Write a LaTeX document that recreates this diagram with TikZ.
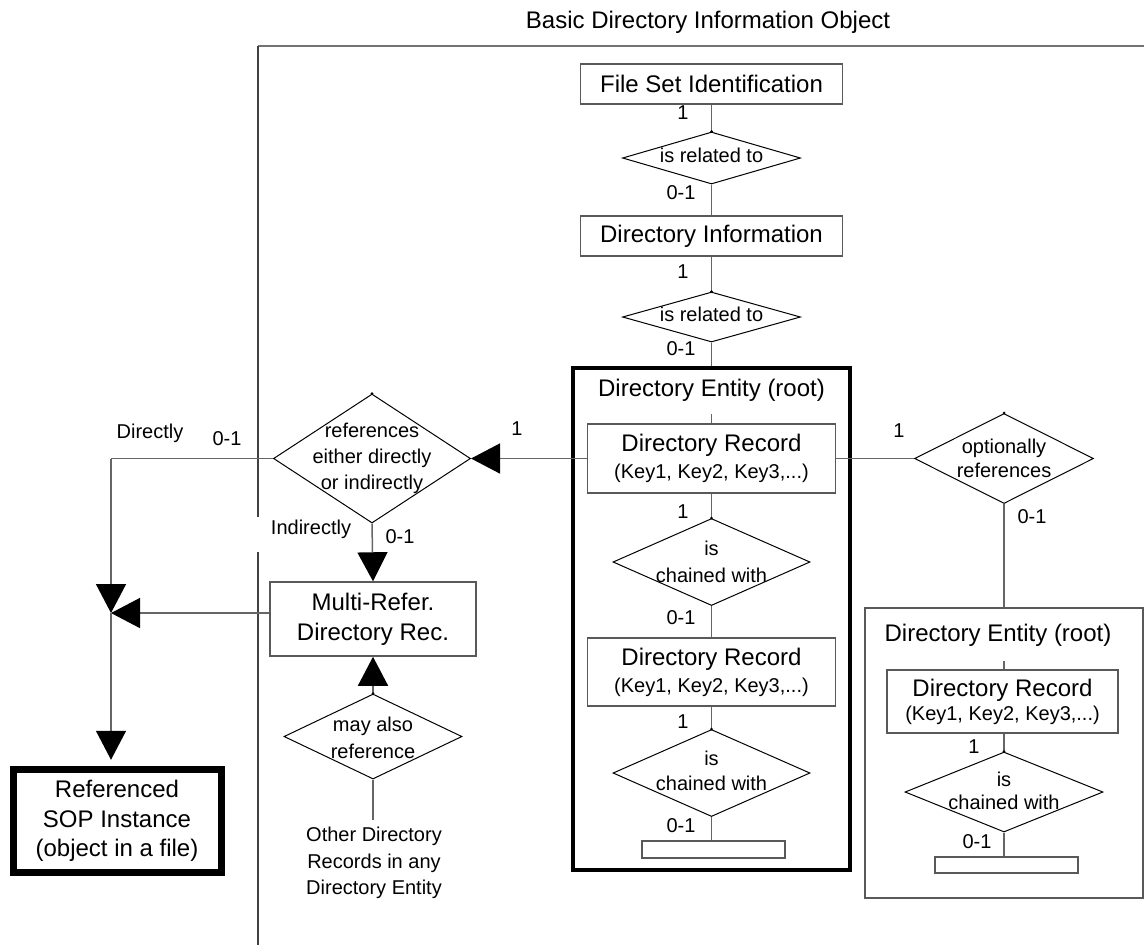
\documentclass[tikz,border=0pt]{standalone}
\usepackage{fontspec}
\setmainfont{Liberation Sans}
\usetikzlibrary{shapes.geometric,arrows.meta}
\begin{document}
\begin{tikzpicture}[x=0.5pt,y=-0.5pt,
  big/.style={font=\fontsize{12}{15}\selectfont},
  sml/.style={font=\fontsize{10}{13}\selectfont},
  box/.style={draw=black!65, line width=0.75pt, inner sep=0pt, align=center, rectangle},
  dia/.style={draw=black, line width=0.5pt, diamond, inner sep=0pt},
  conn/.style={draw=black!60, line width=0.75pt},
  arr/.style={conn, -{Triangle[length=14.5pt,width=15pt,color=black]}},
  lab/.style={sml, inner sep=0pt},
  txt/.style={inner sep=0pt, align=center},
  rec/.style={box, minimum width=124pt, font=\fontsize{10}{13.5}\selectfont},
]
\useasboundingbox (0,0) rectangle (1144,950);

% frame
\draw[black!55, line width=1pt] (258,46) -- (1144,46);
\draw[black!75, line width=0.6pt] (258,46) -- (258,517) (258,552) -- (258,945);
\node[txt, big] (title) at (708,22) {Basic Directory Information Object};

% central column
\node[box, big, minimum width=131pt, minimum height=20pt] (fsi) at (711.5,84) {File Set Identification};
\node[dia, minimum width=89pt, minimum height=26pt] (d1) at (711.5,158) {};
\node[txt, sml] (d1t) at (711.5,155) {is related to};
\node[box, big, minimum width=131pt, minimum height=20pt] (din) at (711.5,236) {Directory Information};
\node[dia, minimum width=89pt, minimum height=25pt] (d2) at (711.5,317) {};
\node[txt, sml] (d2t) at (711.5,314) {is related to};

\node[draw=black, line width=2pt, inner sep=0pt, minimum width=138.5pt, minimum height=251pt] (ent) at (711.5,619) {};
\node[txt, big] (entt) at (711.5,390) {Directory Entity (root)};
\coordinate (s1) at (711.5,414);
\node[rec, minimum height=34.5pt] (r1) at (711.5,458.5) {{\fontsize{12}{13.5}\selectfont Directory Record}\\(Key1, Key2, Key3,...)};
\node[dia, minimum width=98.5pt, minimum height=43.5pt] (d3) at (711.5,562) {};
\node[txt, font=\fontsize{10}{13.5}\selectfont] (d3t) at (711.5,561.5) {is\\chained with};
\node[rec, minimum height=34pt] (r2) at (711.5,672) {{\fontsize{12}{13.5}\selectfont Directory Record}\\(Key1, Key2, Key3,...)};
\node[dia, minimum width=98.5pt, minimum height=43.5pt] (d4) at (711.5,773) {};
\node[txt, font=\fontsize{10}{12.5}\selectfont] (d4t) at (711.5,771) {is\\chained with};
\node[box, minimum width=71.5pt, minimum height=8.5pt] (e1) at (713.5,849.5) {};

% left part
\node[dia, minimum width=98.5pt, minimum height=64.5pt] (dl) at (372,458.5) {};
\node[txt, font=\fontsize{10}{13}\selectfont] (dlt) at (372,458) {references\\either directly\\or indirectly};
\node[box, font=\fontsize{12}{15}\selectfont, minimum width=103pt, minimum height=37pt] (mr) at (373,619) {Multi-Refer.\\Directory Rec.};
\node[dia, minimum width=89pt, minimum height=42.5pt] (dm) at (373,736.5) {};
\node[txt, font=\fontsize{10}{13.3}\selectfont] (dmt) at (373,738) {may also\\reference};
\coordinate (ot) at (373,820);
\node[txt, font=\fontsize{10}{13.25}\selectfont] (other) at (374,863) {Other Directory\\Records in any\\Directory Entity};
\node[draw=black, line width=3.5pt, inner sep=0pt, align=center, font=\fontsize{12}{14.75}\selectfont, minimum width=104pt, minimum height=51.75pt] (sop) at (117,821) {Referenced\\SOP Instance\\(object in a file)};
\coordinate (J) at (111,613);
\coordinate (c1) at (111,458.5);

% right part
\node[dia, minimum width=89.5pt, minimum height=45pt] (dr) at (1004,458.5) {};
\node[txt, font=\fontsize{10}{12}\selectfont] (drt) at (1004,458.5) {optionally\\references};
\node[box, minimum width=139pt, minimum height=145pt] (ent2) at (1004,753) {};
\node[txt, big] (ent2t) at (998,635) {Directory Entity (root)};
\coordinate (s2) at (1004,661);
\node[rec, minimum width=115.5pt, minimum height=31.5pt, font=\fontsize{10}{12}\selectfont] (r3) at (1002.5,701.5) {{\fontsize{12}{12}\selectfont Directory Record}\\(Key1, Key2, Key3,...)};
\node[dia, minimum width=99pt, minimum height=40pt] (d5) at (1004,792) {};
\node[txt, font=\fontsize{10}{11.5}\selectfont] (d5t) at (1004,791) {is\\chained with};
\node[box, minimum width=71.5pt, minimum height=8pt] (e2) at (1006.5,865) {};

% connectors centre
\draw[conn] (fsi.south) -- (d1.north);
\draw[conn] (d1.south) -- (din.north);
\draw[conn] (din.south) -- (d2.north);
\draw[conn] (d2.south) -- (ent.north);
\draw[conn] (s1) -- (r1.north);
\draw[conn] (r1.south) -- (d3.north);
\draw[conn] (d3.south) -- (r2.north);
\draw[conn] (r2.south) -- (d4.north);
\draw[conn] (d4.south) -- (e1.north -| d4.south);

% connectors left
\draw[arr] (r1.west) -- (dl.east);
\draw[conn] (dl.west) -- (c1);
\draw[arr] (c1) -- (J);
\draw[arr] (J -| mr.west) -- (J);
\draw[arr, shorten >=3pt] (J) -- (sop.north -| J);
\draw[arr] (dl.south) -- (mr.north);
\draw[arr] (dm.north) -- (mr.south);
\draw[conn] (dm.south) -- (ot);

% connectors right
\draw[conn] (r1.east) -- (dr.west);
\draw[conn] (dr.south) -- (ent2.north -| dr.south);
\draw[conn] (s2) -- (r3.north -| s2);
\draw[conn] (r3.south -| d5.north) -- (d5.north);
\draw[conn] (d5.south) -- (e2.north -| d5.south);

% vertex dots
\foreach \d in {d1,d2,d3,d4,dl,dm,dr,d5} \fill (\d.north) circle (1.5);

% labels
\node[lab] at (683,113) {1};
\node[lab] at (681,193) {0-1};
\node[lab] at (683,272) {1};
\node[lab] at (681,349) {0-1};
\node[lab] at (683,512) {1};
\node[lab] at (681,618) {0-1};
\node[lab] at (683,722) {1};
\node[lab] at (681,826) {0-1};
\node[lab] at (517,429) {1};
\node[lab] at (899,431) {1};
\node[lab] at (150,433) {Directly};
\node[lab] at (227,439) {0-1};
\node[lab] at (311,529) {Indirectly};
\node[lab] at (400,537) {0-1};
\node[lab] at (1032,517) {0-1};
\node[lab] at (974,747) {1};
\node[lab] at (977,842) {0-1};
\end{tikzpicture}
\end{document}
